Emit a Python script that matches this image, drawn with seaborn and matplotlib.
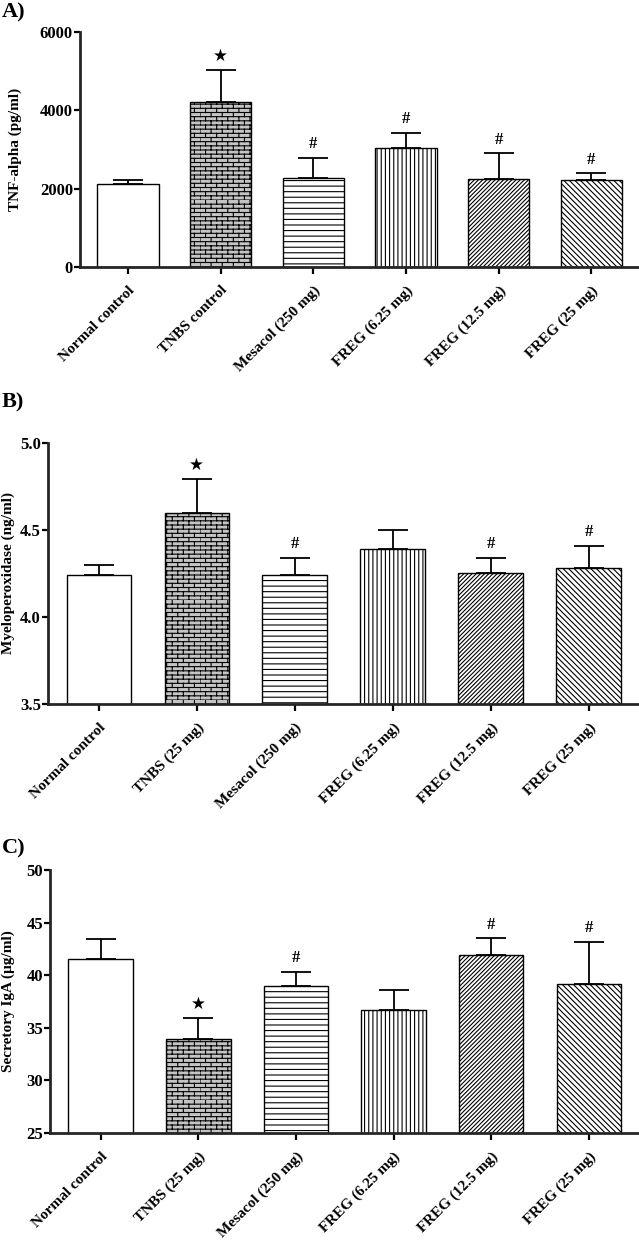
import warnings
import numpy as np
import matplotlib
matplotlib.use("Agg")
import matplotlib.pyplot as plt
from matplotlib import hatch as mhatch
from matplotlib.path import Path
import seaborn as sns

warnings.filterwarnings("ignore")

labels_a = ["Normal control", "TNBS control", "Mesacol (250 mg)",
            "FREG (6.25 mg)", "FREG (12.5 mg)", "FREG (25 mg)"]
labels_bc = ["Normal control", "TNBS (25 mg)", "Mesacol (250 mg)",
             "FREG (6.25 mg)", "FREG (12.5 mg)", "FREG (25 mg)"]

tnf = [2130, 4200, 2270, 3050, 2240, 2210]
tnf_sem = [90, 830, 520, 375, 660, 180]
mpo = [4.24, 4.60, 4.24, 4.39, 4.25, 4.28]
mpo_sem = [0.06, 0.19, 0.10, 0.11, 0.09, 0.13]
iga = [41.5, 33.9, 39.0, 36.7, 41.9, 39.2]
iga_sem = [1.9, 2.0, 1.3, 1.9, 1.6, 4.0]

marks_a = ["", "★", "#", "#", "#", "#"]
marks_b = ["", "★", "#", "", "#", "#"]
marks_c = ["", "★", "#", "", "#", "#"]

hatches = ["", "bbbb", "---", "||||", "////////", "\\\\\\\\\\\\"]
faces = ["white", "#c4c4c4", "white", "white", "white", "white"]


# brick pattern for the TNBS bar (prism style), 'b' is not a builtin hatch
class Bricks(mhatch.HatchPatternBase):
    def __init__(self, hatch, density):
        self.n = int(hatch.count("b") * density)
        self.m = max(int(self.n * 0.4), 1)
        self.num_vertices = (self.n + self.n * self.m) * 2 if self.n else 0

    def set_vertices_and_codes(self, vertices, codes):
        k = 0
        for i in range(self.n):
            y0 = i / self.n
            vertices[k] = (0, y0)
            vertices[k + 1] = (1, y0)
            codes[k] = Path.MOVETO
            codes[k + 1] = Path.LINETO
            k += 2
            for j in range(self.m):
                x = (j + 0.5 * (i % 2)) / self.m
                vertices[k] = (x, y0)
                vertices[k + 1] = (x, y0 + 1 / self.n)
                codes[k] = Path.MOVETO
                codes[k + 1] = Path.LINETO
                k += 2


mhatch._hatch_types.append(Bricks)

sns.set_style("ticks")
plt.rcParams["font.family"] = ["Liberation Serif", "DejaVu Sans"]
plt.rcParams["font.weight"] = "bold"
plt.rcParams["axes.labelweight"] = "bold"
plt.rcParams["hatch.linewidth"] = 0.8
plt.rcParams["text.color"] = "black"
plt.rcParams["axes.labelcolor"] = "black"
plt.rcParams["xtick.color"] = "black"
plt.rcParams["ytick.color"] = "black"


def panel(ax, labels, vals, errs, marks, ylabel, ylim, yticks, fmt, label_x):
    sns.barplot(x=labels, y=vals, color="white", edgecolor="black",
                linewidth=1.0, width=0.66, errorbar=None, ax=ax)
    for p, h, fc in zip(ax.patches, hatches, faces):
        p.set_hatch(h)
        p.set_facecolor(fc)
    x = np.arange(len(vals))
    ax.errorbar(x, vals, yerr=[np.zeros(len(vals)), errs], fmt="none",
                ecolor="black", elinewidth=1.3, capsize=11, capthick=1.3,
                zorder=1)
    for i, (v, e, m) in enumerate(zip(vals, errs, marks)):
        if m:
            ax.annotate(m, (i, v + e), xytext=(0, 4), textcoords="offset points",
                        ha="center", va="bottom", fontsize=12, fontweight="bold")
    ax.set_ylim(*ylim)
    ax.set_xlim(-0.52, 5.5)
    ax.set_yticks(yticks)
    ax.set_yticklabels([fmt.format(t) for t in yticks], fontsize=12, fontweight="bold")
    ax.set_xticks(x)
    ax.set_xticklabels(labels, rotation=45, ha="right", rotation_mode="anchor",
                       fontsize=11, fontweight="bold")
    ax.set_ylabel(ylabel, fontsize=11, fontweight="bold")
    ax.yaxis.set_label_coords(label_x, 0.5)
    sns.despine(ax=ax)
    for s in ["left", "bottom"]:
        ax.spines[s].set_linewidth(2)
    ax.tick_params(axis="y", direction="out", length=4, width=1.6, pad=1)
    ax.tick_params(axis="x", direction="out", length=5, width=1.6, pad=7)
    ax.set_xlabel("")


fig = plt.figure(figsize=(6.39, 12.4), dpi=100)
ax_a = fig.add_axes([0.125, 0.7847, 0.873, 0.1895])
ax_b = fig.add_axes([0.075, 0.4323, 0.923, 0.2105])
ax_c = fig.add_axes([0.078, 0.0863, 0.920, 0.2121])

panel(ax_a, labels_a, tnf, tnf_sem, marks_a, "TNF-alpha (pg/ml)",
      (0, 6000), [0, 2000, 4000, 6000], "{:.0f}", -0.104)
panel(ax_b, labels_bc, mpo, mpo_sem, marks_b, "Myeloperoxidase (ng/ml)",
      (3.5, 5.0), [3.5, 4.0, 4.5, 5.0], "{:.1f}", -0.056)
panel(ax_c, labels_bc, iga, iga_sem, marks_c, "Secretory IgA (µg/ml)",
      (25, 50), [25, 30, 35, 40, 45, 50], "{:.0f}", -0.059)

fig.text(0.003, 1 - 12 / 1240, "A)", fontsize=16, fontweight="bold", va="center")
fig.text(0.003, 1 - 402 / 1240, "B)", fontsize=16, fontweight="bold", va="center")
fig.text(0.003, 1 - 848 / 1240, "C)", fontsize=16, fontweight="bold", va="center")

fig.savefig("out.png", dpi=100)
